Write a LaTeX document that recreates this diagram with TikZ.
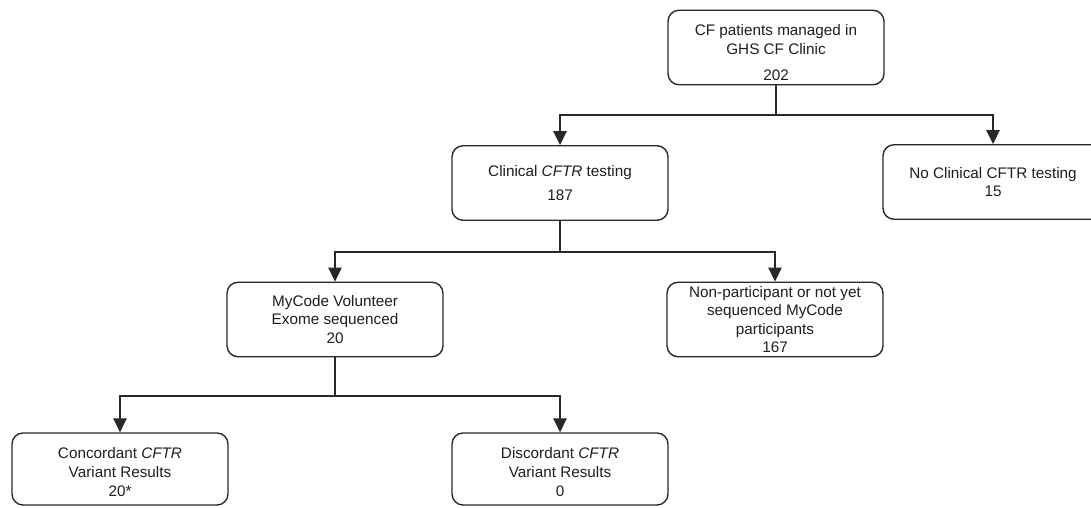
\documentclass[tikz,border=0pt]{standalone}
\usepackage{fontspec}
\setmainfont{Liberation Sans}
\usepackage{tikz}
\usepackage{xcolor}
\usetikzlibrary{arrows.meta}

\definecolor{boxline}{RGB}{40,40,40}
\definecolor{boxtext}{RGB}{30,30,30}

\begin{document}
\begin{tikzpicture}[x=0.02cm, y=-0.02cm,
    flowbox/.style={draw=boxline, line width=0.8pt, rounded corners=0.22cm,
        minimum width=4.32cm, minimum height=1.49cm, align=center,
        text=boxtext, inner sep=1pt,
        font=\fontsize{8.7}{9.8}\selectfont},
    flowline/.style={draw=boxline, line width=0.8pt},
    flowarrow/.style={flowline, -{Triangle[length=0.28cm,width=0.27cm]}}]
\useasboundingbox (0,0) rectangle (1091,507);

    \node[flowbox] (top) at (776, 47.5) {\rule{0pt}{12pt}CF patients managed in\\[1pt] GHS CF Clinic\\[4.5pt] 202};

    \node[flowbox] (clin) at (560, 183) {Clinical \textit{CFTR} testing\\[4pt] 187};
    \node[flowbox, minimum width=4.4cm] (noclin) at (993, 182) {No Clinical CFTR testing\\ 15};

    \node[flowbox] (mycode) at (335, 319.5) {MyCode Volunteer\\[0.5pt] Exome sequenced\\[0.5pt] 20};
    \node[flowbox] (nonpart) at (775, 319.5) {Non-participant or not yet\\[0.6pt] sequenced MyCode\\[0.6pt] participants\\[0.6pt] 167};

    \node[flowbox, minimum height=1.44cm] (conc) at (120, 469) {\rule{0pt}{10pt}Concordant \textit{CFTR}\\[1pt] Variant Results\\[1pt] 20*};
    \node[flowbox, minimum height=1.44cm] (disc) at (560, 469) {\rule{0pt}{10pt}Discordant \textit{CFTR}\\[1pt] Variant Results\\[1pt] 0};

    % branch points
    \coordinate (jtop) at (776, 115);
    \coordinate (jclin) at (560, 252);
    \coordinate (jmy) at (335, 396);

    \draw[flowline] (top.south) -- (jtop);
    \draw[flowarrow] (jtop) -| (clin.north);
    \draw[flowarrow] (jtop) -| (noclin.north);

    \draw[flowline] (clin.south) -- (jclin);
    \draw[flowarrow] (jclin) -| (mycode.north);
    \draw[flowarrow] (jclin) -| (nonpart.north);

    \draw[flowline] (mycode.south) -- (jmy);
    \draw[flowarrow] (jmy) -| (conc.north);
    \draw[flowarrow] (jmy) -| (disc.north);

\end{tikzpicture}
\end{document}
